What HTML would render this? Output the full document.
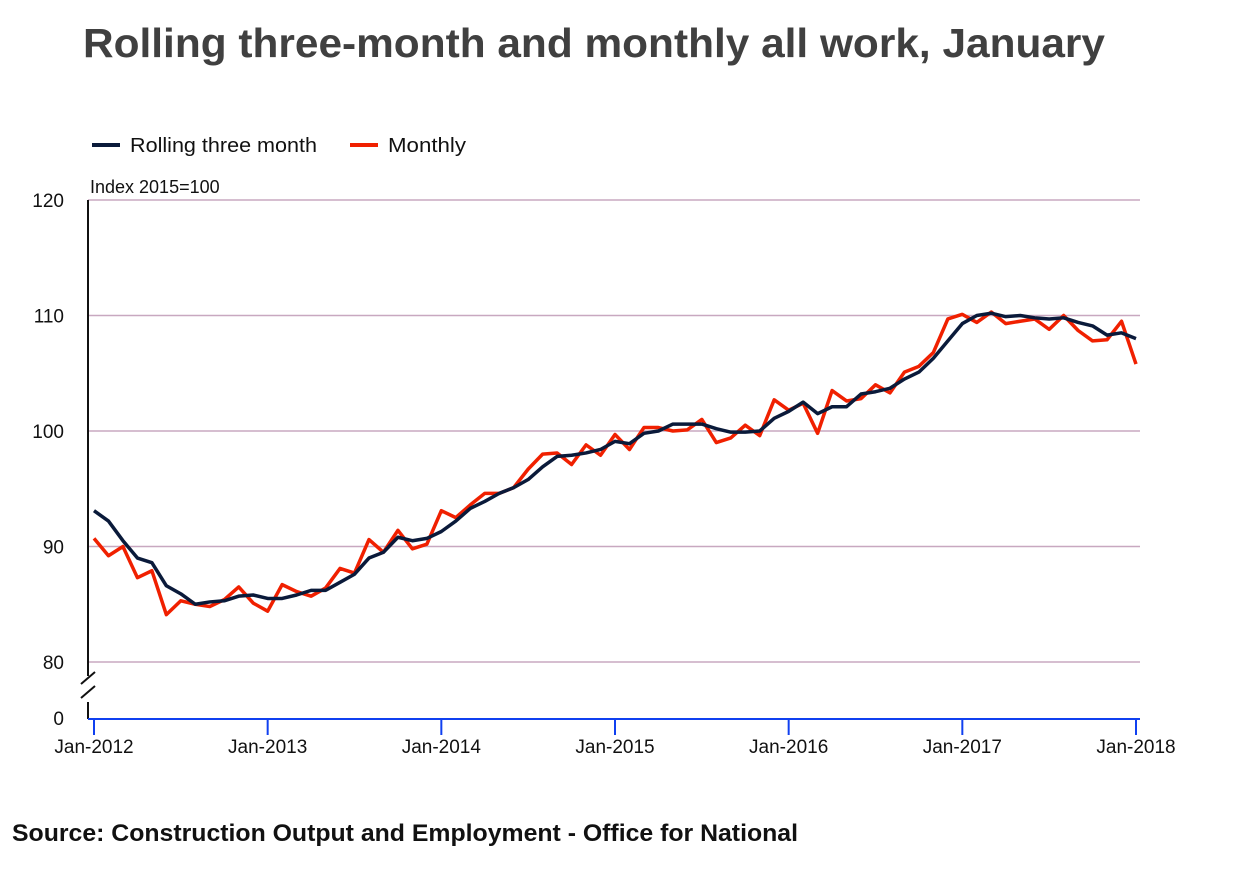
<!DOCTYPE html>
<html><head><meta charset="utf-8"><style>
body{margin:0;background:#fff;width:1250px;height:864px;overflow:hidden;font-family:"Liberation Sans",sans-serif}
</style></head><body>
<svg width="1250" height="864">
<text x="83" y="57" font-size="41" font-weight="bold" fill="#404040" textLength="1022" lengthAdjust="spacingAndGlyphs">Rolling three-month and monthly all work, January</text>
<g>
<line x1="92" y1="145" x2="120" y2="145" stroke="#0a1a3a" stroke-width="4"/>
<text x="130" y="152" font-size="20" fill="#111" textLength="187" lengthAdjust="spacingAndGlyphs">Rolling three month</text>
<line x1="350" y1="145" x2="378" y2="145" stroke="#f02000" stroke-width="4"/>
<text x="388" y="152" font-size="20" fill="#111" textLength="78" lengthAdjust="spacingAndGlyphs">Monthly</text>
</g>
<text x="90" y="193" font-size="18" fill="#111">Index 2015=100</text>
<g id="grid"></g>
<g id="axes"></g>
<g id="series"></g>
<text x="12" y="841" font-size="24" font-weight="bold" fill="#111" textLength="786" lengthAdjust="spacingAndGlyphs">Source: Construction Output and Employment - Office for National</text>
</svg>
<script>
const yTicks=[80,90,100,110,120];
const xLabels=["Jan-2012","Jan-2013","Jan-2014","Jan-2015","Jan-2016","Jan-2017","Jan-2018"];
const monthly=[90.7,89.2,90.0,87.3,87.9,84.1,85.3,85.0,84.8,85.4,86.5,85.1,84.4,86.7,86.1,85.7,86.4,88.1,87.7,90.6,89.5,91.4,89.8,90.2,93.1,92.5,93.6,94.6,94.6,95.1,96.7,98.0,98.1,97.1,98.8,97.9,99.7,98.4,100.3,100.3,100.0,100.1,101.0,99.0,99.4,100.5,99.6,102.7,101.8,102.4,99.8,103.5,102.6,102.8,104.0,103.3,105.1,105.6,106.8,109.7,110.1,109.4,110.3,109.3,109.5,109.7,108.8,110.0,108.7,107.8,107.9,109.5,105.8];
const rolling=[93.1,92.2,90.5,89.0,88.6,86.6,85.9,85.0,85.2,85.3,85.7,85.8,85.5,85.5,85.8,86.2,86.2,86.9,87.6,89.0,89.5,90.8,90.5,90.7,91.3,92.2,93.3,93.9,94.6,95.1,95.8,96.9,97.8,97.9,98.1,98.4,99.1,98.9,99.8,100.0,100.6,100.6,100.6,100.2,99.9,99.9,100.0,101.1,101.7,102.5,101.5,102.1,102.1,103.2,103.4,103.7,104.5,105.1,106.3,107.8,109.3,110.0,110.2,109.9,110.0,109.8,109.7,109.8,109.4,109.1,108.3,108.5,108.0];
const NS="http://www.w3.org/2000/svg";
const X=i=>94+i*(1042/72);
const Y=v=>431-(v-100)*11.55;
function mk(t,a,p){const e=document.createElementNS(NS,t);for(const k in a)e.setAttribute(k,a[k]);p.appendChild(e);return e;}
const grid=document.getElementById('grid'),axes=document.getElementById('axes'),ser=document.getElementById('series');
yTicks.forEach(v=>{
 const l=mk('line',{x1:88,x2:1140,y1:Y(v),y2:Y(v),stroke:'#c8a8c0','stroke-width':1.5},grid);
 
 
 const t=mk('text',{x:64,y:Y(v)+7,'font-size':19,fill:'#111','text-anchor':'end'},grid);
 t.textContent=v;
 
 
});
let z=mk('text',{x:64,y:725,'font-size':19,fill:'#111','text-anchor':'end'},axes);z.textContent='0';


let ya=mk('path',{d:'M88 200 V676 M88 702 V719 M81 684 L95 672 M81 698 L95 686',stroke:'#111','stroke-width':2,fill:'none'},axes);


let xa=mk('line',{x1:88,x2:1140,y1:719,y2:719,stroke:'#1040f0','stroke-width':2},axes);


xLabels.forEach((s,j)=>{
 const x=X(j*12);
 const tk=mk('line',{x1:x,x2:x,y1:719,y2:735,stroke:'#1040f0','stroke-width':2},axes);
 
 
 const t=mk('text',{x:x,y:753,'font-size':19,fill:'#111','text-anchor':'middle'},axes);
 t.textContent=s;
 
 
});
function line(arr,c,name){
 const p=mk('polyline',{points:arr.map((v,i)=>X(i)+','+Y(v)).join(' '),fill:'none',stroke:c,'stroke-width':3.5,'stroke-linejoin':'round'},ser);
 
 
}
line(monthly,'#f02000','monthly-line');
line(rolling,'#0a1a3a','rolling-three-month-line');
</script>
</body></html>
